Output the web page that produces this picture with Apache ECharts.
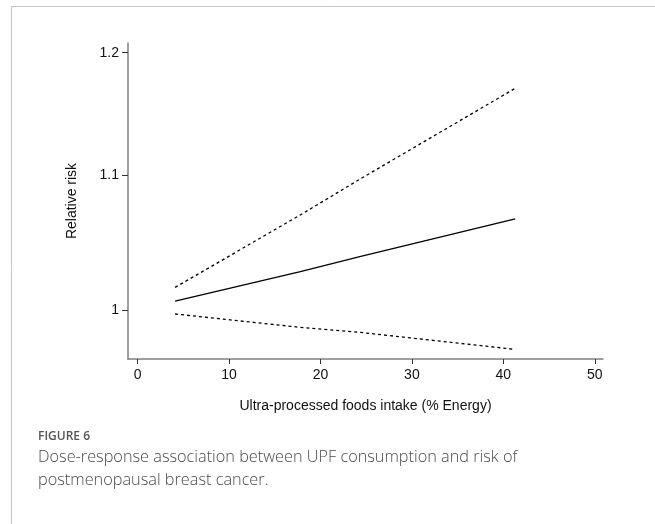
<!DOCTYPE html>
<html>
<head>
<meta charset="utf-8">
<script src="https://cdn.jsdelivr.net/npm/echarts@6/dist/echarts.min.js"></script>
<style>
html,body{margin:0;padding:0;background:#fff;}
#main{width:655px;height:524px;}
</style>
</head>
<body>
<div id="main"></div>
<script>
// Data
var xValues = [4.1, 17.8, 24.3, 41.3];
var rrEstimate = [1.0064, 1.0275, 1.0385, 1.0668];
var rrUpper = [1.0162, 1.0697, 1.0971, 1.1701];
var rrLower = [0.9972, 0.9878, 0.9843, 0.9725];
var xTickValues = [0, 10, 20, 30, 40, 50];
var yTickValues = [1, 1.1, 1.2];
var yTickLabels = ['1', '1.1', '1.2'];
var xTitle = 'Ultra-processed foods intake (% Energy)';
var yTitle = 'Relative risk';
var captionTitle = 'FIGURE 6';
var captionLines = ['Dose-response association between UPF consumption and risk of', 'postmenopausal breast cancer.'];

function pairs(ys) {
  return xValues.map(function (x, i) { return [x, Math.log(ys[i])]; });
}

var chart = echarts.init(document.getElementById('main'), null, {renderer: 'canvas'});
var axisFont = 'Liberation Sans, Arial, sans-serif';
var lineStyleBase = {color: '#000', width: 1.3};

var option = {
  backgroundColor: '#fff',
  animation: false,
  grid: {left: 128, right: 52, top: 43, bottom: 165, containLabel: false},
  xAxis: {
    type: 'value',
    min: -1.05,
    max: 50.9,
    name: xTitle,
    nameLocation: 'middle',
    nameGap: 40,
    nameTextStyle: {fontFamily: axisFont, fontSize: 14, color: '#111'},
    splitLine: {show: false},
    axisLine: {show: true, onZero: false, lineStyle: {color: '#808080', width: 1.5}},
    axisTick: {show: true, length: 5, customValues: xTickValues, lineStyle: {color: '#333', width: 1}},
    axisLabel: {customValues: xTickValues, margin: 9, fontFamily: axisFont, fontSize: 14, color: '#111'}
  },
  yAxis: {
    type: 'value',
    min: -0.0347,
    max: 0.1892,
    name: yTitle,
    nameLocation: 'middle',
    nameRotate: 90,
    nameGap: 49,
    nameTextStyle: {fontFamily: axisFont, fontSize: 14, color: '#111'},
    splitLine: {show: false},
    axisLine: {show: true, onZero: false, lineStyle: {color: '#808080', width: 1.5}},
    axisTick: {show: true, length: 6, customValues: yTickValues.map(Math.log), lineStyle: {color: '#333', width: 1}},
    axisLabel: {
      customValues: yTickValues.map(Math.log),
      margin: 9,
      fontFamily: axisFont, fontSize: 14, color: '#111',
      formatter: function (v) {
        var best = 0, bd = Infinity;
        yTickValues.forEach(function (t, i) {
          var d = Math.abs(Math.log(t) - v);
          if (d < bd) { bd = d; best = i; }
        });
        return yTickLabels[best];
      }
    }
  },
  series: [
    {type: 'line', name: 'Upper', data: pairs(rrUpper), showSymbol: false, symbol: 'none',
     lineStyle: Object.assign({}, lineStyleBase, {type: [3, 3]})},
    {type: 'line', name: 'Estimate', data: pairs(rrEstimate), showSymbol: false, symbol: 'none',
     lineStyle: Object.assign({}, lineStyleBase)},
    {type: 'line', name: 'Lower', data: pairs(rrLower), showSymbol: false, symbol: 'none',
     lineStyle: Object.assign({}, lineStyleBase, {type: [3, 3]})}
  ],
  graphic: [
    {type: 'rect', shape: {x: 11.5, y: 6.5, width: 800, height: 700},
     style: {fill: 'none', stroke: '#c4c4c4', lineWidth: 1}, silent: true},
    {type: 'text', left: 38, top: 431,
     style: {text: captionTitle, font: '600 12px "Open Sans", sans-serif', fill: '#555'}},
    {type: 'text', left: 38, top: 449,
     style: {text: captionLines[0], font: '300 16.3px "Open Sans", sans-serif', fill: '#4a4a4a'}},
    {type: 'text', left: 38, top: 472,
     style: {text: captionLines[1], font: '300 16.3px "Open Sans", sans-serif', fill: '#4a4a4a'}}
  ]
};
chart.setOption(option);
</script>
</body>
</html>
